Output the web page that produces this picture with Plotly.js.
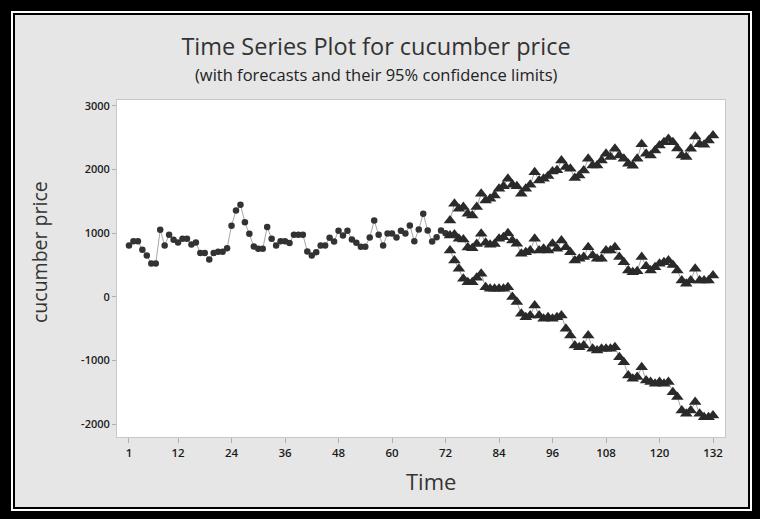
<!DOCTYPE html>
<html>
<head>
<meta charset="utf-8">
<script src="https://cdn.plot.ly/plotly-3.0.1.min.js"></script>
<style>
  html, body { margin: 0; padding: 0; background: #000; }
  #wrap { position: relative; width: 760px; height: 519px; overflow: hidden; }
  #chart { position: absolute; left: 0; top: 0; width: 760px; height: 519px; }
  .frame { position: absolute; box-sizing: border-box; pointer-events: none; }
  #f1 { left: 0; top: 0; width: 760px; height: 519px; border-style: solid; border-color: #000;
        border-width: 11px 8px 8px 11px; }
  #f2 { left: 11px; top: 11px; width: 741px; height: 500px; border: 2px solid #fff; }
  #f3 { left: 13px; top: 13px; width: 737px; height: 496px; border: 2px solid #000; }
</style>
</head>
<body>
<div id="wrap">
  <div id="chart"></div>
  <div class="frame" id="f1"></div>
  <div class="frame" id="f2"></div>
  <div class="frame" id="f3"></div>
</div>
<script>
// ---- data ----
const obsTime = [];
for (let i = 1; i <= 72; i++) obsTime.push(i);
const obsPrice = [807, 875, 875, 739, 650, 524, 524, 1053, 807, 975,
  896, 854, 912, 912, 823, 854, 687, 687, 587, 687,
  708, 708, 765, 1116, 1357, 1447, 1174, 990, 791, 755,
  755, 1096, 912, 807, 875, 875, 844, 975, 975, 975,
  713, 650, 702, 807, 807, 928, 870, 1038, 964, 1038,
  901, 849, 786, 786, 933, 1200, 975, 807, 996, 996,
  933, 1038, 996, 1121, 875, 1059, 1305, 1043, 870, 938,
  1043, 1000];

const fcTime = [];
for (let i = 73; i <= 132; i++) fcTime.push(i);
const forecast = [964, 980, 912, 900, 775, 765, 830, 990, 850, 818,
  830, 912, 938, 1000, 886, 833, 676, 702, 728, 912,
  728, 755, 728, 833, 755, 886, 781, 702, 571, 597,
  624, 781, 650, 597, 597, 728, 728, 781, 624, 545,
  414, 388, 400, 624, 480, 414, 466, 519, 545, 571,
  500, 414, 256, 204, 256, 440, 256, 256, 256, 335];
const upper = [1200, 1462, 1384, 1410, 1305, 1279, 1410, 1620, 1514, 1541,
  1593, 1698, 1740, 1855, 1761, 1740, 1620, 1698, 1761, 1960,
  1829, 1855, 1900, 1970, 1990, 2143, 2039, 2013, 1866, 1908,
  1986, 2170, 2065, 2065, 2143, 2248, 2196, 2327, 2222, 2170,
  2091, 2060, 2170, 2400, 2250, 2222, 2300, 2380, 2430, 2480,
  2430, 2330, 2222, 2196, 2327, 2520, 2400, 2390, 2458, 2536];
const lower = [728, 571, 440, 283, 230, 230, 300, 362, 152, 126,
  126, 126, 126, 152, -5, -83, -267, -320, -293, -137,
  -293, -346, -320, -346, -320, -293, -503, -608, -765, -792,
  -765, -608, -817, -843, -817, -817, -817, -792, -949, -1027,
  -1237, -1289, -1262, -1106, -1315, -1341, -1368, -1341, -1368, -1341,
  -1499, -1577, -1786, -1840, -1786, -1655, -1840, -1892, -1892, -1866];

const xTickVals = [1, 12, 24, 36, 48, 60, 72, 84, 96, 108, 120, 132];
const xTickText = ['1', '12', '24', '36', '48', '60', '72', '84', '96', '108', '120', '132'];
const yTickVals = [3000, 2000, 1000, 0, -1000, -2000];
const yTickText = ['3000', '2000', '1000', '0', '-1000', '-2000'];

// ---- chart ----
const lineGray = '#a6a6a6';
const markDark = '#333333';
const tri = { symbol: 'triangle-up', size: 11, color: '#2a2a2a' };

const traces = [
  { x: obsTime, y: obsPrice, mode: 'lines+markers', name: 'cucumber price',
    line: { color: lineGray, width: 1 },
    marker: { symbol: 'circle', size: 6.5, color: markDark } },
  { x: fcTime, y: upper, mode: 'lines+markers', name: 'Upper',
    line: { color: lineGray, width: 1 }, marker: tri },
  { x: fcTime, y: forecast, mode: 'lines+markers', name: 'Forecast',
    line: { color: lineGray, width: 1 }, marker: tri },
  { x: fcTime, y: lower, mode: 'lines+markers', name: 'Lower',
    line: { color: lineGray, width: 1 }, marker: tri }
];

const fontFam = '"Open Sans", "Noto Sans", sans-serif';
const plotH = 519 - 100 - 82;
const plotW = 760 - 117 - 35;

const layout = {
  width: 760, height: 519,
  paper_bgcolor: '#e6e6e6',
  plot_bgcolor: '#ffffff',
  showlegend: false,
  margin: { l: 117, r: 35, t: 100, b: 82, pad: 0 },
  font: { family: fontFam, color: '#222' },
  title: {
    text: 'Time Series Plot for cucumber price',
    font: { family: fontFam, size: 23.5, color: '#333' },
    xref: 'container', x: 376 / 760, xanchor: 'center',
    yref: 'container', y: 1 - 47 / 519, yanchor: 'middle'
  },
  annotations: [
    { text: '(with forecasts and their 95% confidence limits)',
      xref: 'paper', yref: 'paper', x: (376 - 117) / plotW, y: 1 + (100 - 74) / plotH,
      xanchor: 'center', yanchor: 'middle', showarrow: false,
      font: { family: fontFam, size: 16.5, color: '#222' } },
    { text: 'Time',
      xref: 'paper', yref: 'paper', x: (431 - 117) / plotW, y: -(481 - 437) / plotH,
      xanchor: 'center', yanchor: 'middle', showarrow: false,
      font: { family: fontFam, size: 22, color: '#333' } },
    { text: 'cucumber price', textangle: -90,
      xref: 'paper', yref: 'paper', x: (39 - 117) / plotW, y: (437 - 252) / plotH,
      xanchor: 'center', yanchor: 'middle', showarrow: false,
      font: { family: fontFam, size: 19.5, color: '#333' } }
  ],
  xaxis: {
    range: [-1.69, 134.69],
    tickmode: 'array', tickvals: xTickVals, ticktext: xTickText,
    ticks: 'outside', ticklen: 5, tickcolor: '#b0b0b0',
    showgrid: false, zeroline: false,
    showline: true, linecolor: '#c8c8c8', linewidth: 1, mirror: true,
    tickfont: { family: fontFam, size: 11.5, color: '#1a1a1a', weight: 600 }
  },
  yaxis: {
    range: [-2204, 3094],
    tickmode: 'array', tickvals: yTickVals, ticktext: yTickText,
    ticks: 'outside', ticklen: 4, tickcolor: '#b0b0b0',
    showgrid: false, zeroline: false,
    showline: true, linecolor: '#c8c8c8', linewidth: 1, mirror: true,
    tickfont: { family: fontFam, size: 11, color: '#1a1a1a', weight: 600 }
  }
};

Plotly.newPlot('chart', traces, layout, { staticPlot: true, displayModeBar: false });
</script>
</body>
</html>
